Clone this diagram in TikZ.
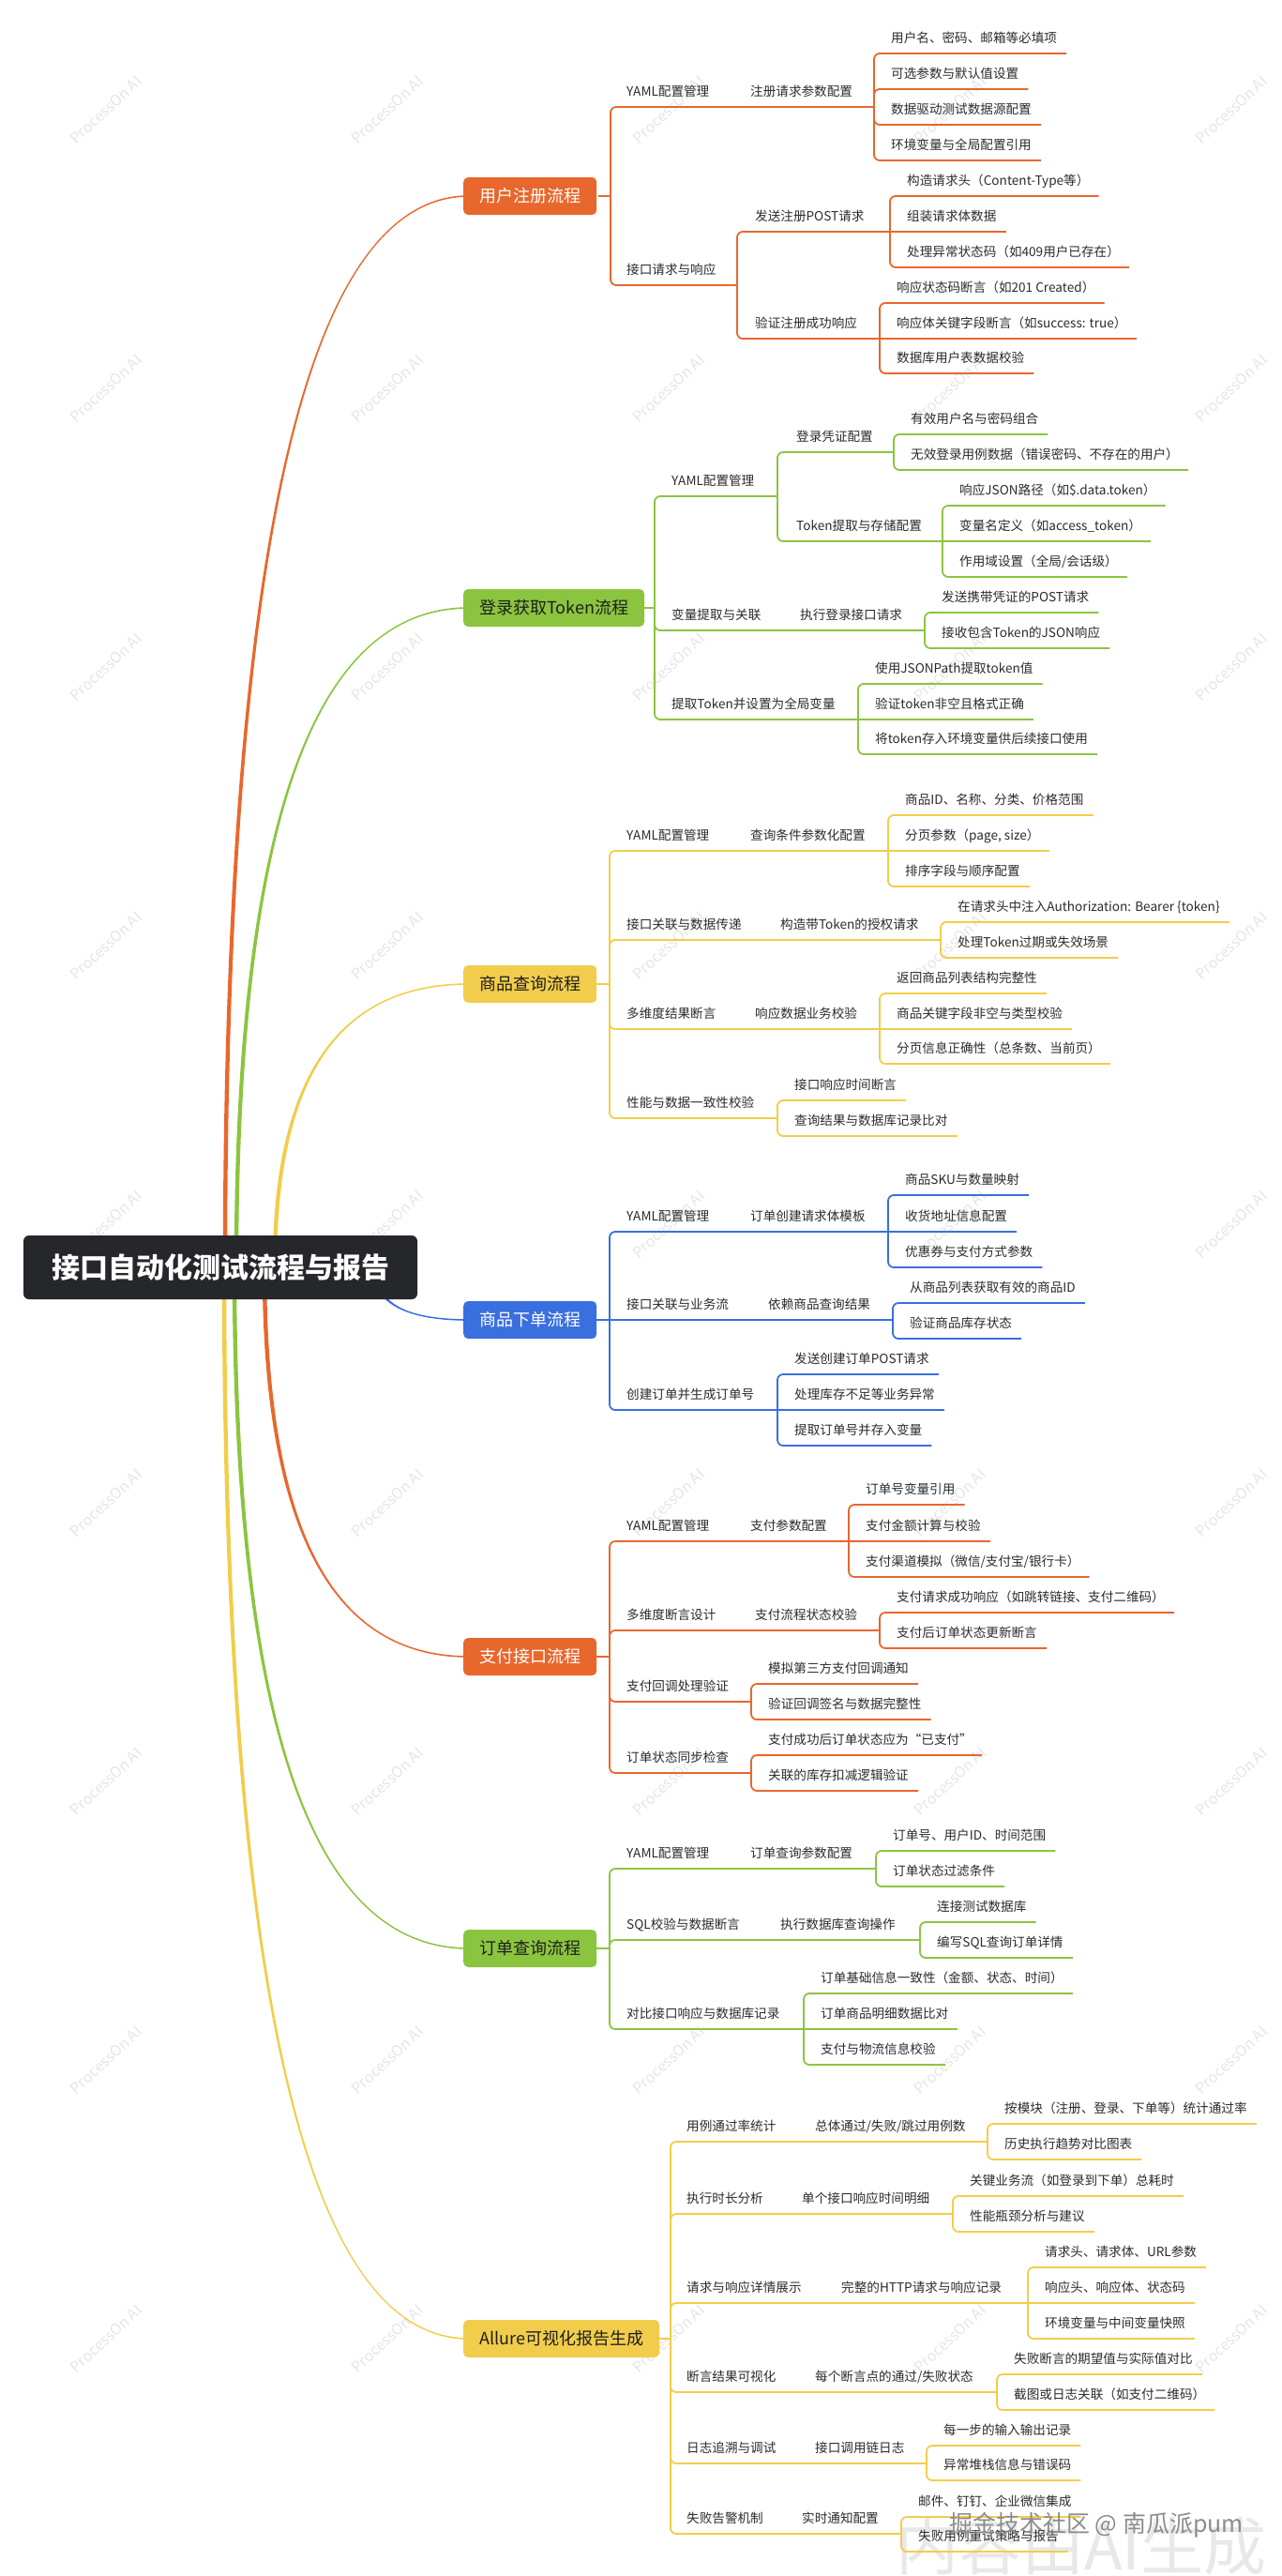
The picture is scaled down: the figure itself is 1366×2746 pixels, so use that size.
\documentclass[tikz,border=0pt]{standalone}
\usepackage{fontspec}
\setmainfont{Noto Sans CJK SC}
\usetikzlibrary{calc}
\definecolor{cor}{HTML}{E8672C}
\definecolor{cgr}{HTML}{8BC53F}
\definecolor{cye}{HTML}{F2CD4B}
\definecolor{cbl}{HTML}{3A6FE0}
\definecolor{croot}{HTML}{26272B}
\definecolor{ctxt}{HTML}{2B2B2B}
\definecolor{cdark}{HTML}{1E1E1E}
\definecolor{cwm}{HTML}{E6E6E6}
\newcounter{nd}
\newcommand\brc{cor}
\tikzset{
  conn/.style={draw=\brc, line width=1.8pt, rounded corners=6pt},
  lbl/.style={font=\fontsize{13.6}{16}\selectfont, text=ctxt, inner sep=0pt, text depth=0pt, anchor=south west},
  bnode/.style={anchor=west, rounded corners=5pt, minimum height=40pt, inner xsep=17pt, inner ysep=0pt, font=\fontsize{18}{20}\selectfont},
  rootnode/.style={fill=croot, rounded corners=6pt, minimum width=420pt, minimum height=68pt, inner sep=0pt, text=white, font=\fontsize{30}{34}\selectfont\bfseries},
  wmark/.style={font=\fontsize{16}{18}\selectfont, text=cwm, rotate=43, inner sep=0pt}
}
% segment: from (x1,y1) vertical to y2 then horizontal to x2
\newcommand\seg[4]{\ifdim #2pt=#4pt \draw[conn] (#1,#2) -- (#3,#4);\else \draw[conn] (#1,#2) |- (#3,#4);\fi}
% label: text x, underline y, text
\newcommand\lab[3]{\stepcounter{nd}\node[lbl] (n\thend) at (#1,#2-11) {#3};}
% leaf: trunk x, parent y, underline y, text
\newcommand\leaf[4]{\stepcounter{nd}\node[lbl, inner xsep=10pt, inner ysep=0pt] (n\thend) at (#1+8,#3-11) {#4};
  \ifdim #2pt=#3pt \draw[conn] (#1,#2) -- ([yshift=-11pt]n\thend.south east);\else \draw[conn] (#1,#2) |- ([yshift=-11pt]n\thend.south east);\fi}
% tapered main curve: colour, start x, end y, signed end half-width
\newcommand\bcurve[4]{%
  \fill[#1] ({#2-2.2},1351) .. controls ({#2-2.2},{1351+2/3*(#3-1351)}) and ({494+2/3*(#2-494)},{#3-(#4)}) .. (500,{#3-(#4)})
    -- (500,{#3+(#4)}) .. controls ({494+2/3*(#2-494)},{#3+(#4)}) and ({#2+2.2},{1351+2/3*(#3-1351)}) .. ({#2+2.2},1351) -- cycle;}

\begin{document}
\begin{tikzpicture}[x=1pt,y=-1pt]
\useasboundingbox (0,0) rectangle (1366,2746);
\fill[white] (0,0) rectangle (1366,2746);
% watermarks
\foreach \wx in {113,413,713,1013,1313}{
  \foreach \wk in {0,...,8}{
    \node[wmark] (wm-\wx-\wk) at (\wx,{117+297*\wk}) {ProcessOn AI};
  }
}
\node[font=\fontsize{67}{70}\selectfont, text=black!9, inner sep=0pt, anchor=base west] (aiwm) at (955,2739) {内容由AI生成};

% main curves
\bcurve{cor}{240}{209}{0.8}
\bcurve{cgr}{252}{648}{0.8}
\bcurve{cye}{293}{1049}{0.8}
\bcurve{cbl}{399}{1407}{-0.8}
\bcurve{cor}{282}{1766}{-0.8}
\bcurve{cgr}{250}{2077}{-0.8}
\bcurve{cye}{239}{2493}{-0.8}

\node[rootnode] (root) at (235,1351) {接口自动化测试流程与报告};

%% Section 1
\renewcommand\brc{cor}
\draw[conn] (638,209) -- (651,209);
\node[bnode, fill=cor, text=white] (b1) at (494,209) {用户注册流程};
\seg{651}{209}{932}{114}
\lab{668}{114}{YAML配置管理}
\lab{800}{114}{注册请求参数配置}
\leaf{932}{114}{57}{用户名、密码、邮箱等必填项}
\leaf{932}{114}{95}{可选参数与默认值设置}
\leaf{932}{114}{133}{数据驱动测试数据源配置}
\leaf{932}{114}{171}{环境变量与全局配置引用}
\seg{651}{209}{786}{304}
\lab{668}{304}{接口请求与响应}
\seg{786}{304}{949}{247}
\lab{805}{247}{发送注册POST请求}
\leaf{949}{247}{209}{构造请求头（Content-Type等）}
\leaf{949}{247}{247}{组装请求体数据}
\leaf{949}{247}{285}{处理异常状态码（如409用户已存在）}
\seg{786}{304}{938}{361}
\lab{805}{361}{验证注册成功响应}
\leaf{938}{361}{323}{响应状态码断言（如201 Created）}
\leaf{938}{361}{361}{响应体关键字段断言（如success: true）}
\leaf{938}{361}{398}{数据库用户表数据校验}

%% Section 2
\renewcommand\brc{cgr}
\draw[conn] (680,648) -- (698,648);
\node[bnode, fill=cgr, text=cdark] (b2) at (494,648) {登录获取Token流程};
\seg{698}{648}{829}{529}
\lab{716}{529}{YAML配置管理}
\seg{829}{529}{953}{482}
\lab{849}{482}{登录凭证配置}
\leaf{953}{482}{463}{有效用户名与密码组合}
\leaf{953}{482}{501}{无效登录用例数据（错误密码、不存在的用户）}
\seg{829}{529}{1005}{577}
\lab{849}{577}{Token提取与存储配置}
\leaf{1005}{577}{539}{响应JSON路径（如\$.data.token）}
\leaf{1005}{577}{577}{变量名定义（如access\_token）}
\leaf{1005}{577}{615}{作用域设置（全局/会话级）}
\seg{698}{648}{986}{672}
\lab{716}{672}{变量提取与关联}
\lab{853}{672}{执行登录接口请求}
\leaf{986}{672}{653}{发送携带凭证的POST请求}
\leaf{986}{672}{691}{接收包含Token的JSON响应}
\seg{698}{648}{915}{767}
\lab{716}{767}{提取Token并设置为全局变量}
\leaf{915}{767}{729}{使用JSONPath提取token值}
\leaf{915}{767}{767}{验证token非空且格式正确}
\leaf{915}{767}{804}{将token存入环境变量供后续接口使用}

%% Section 3
\renewcommand\brc{cye}
\draw[conn] (630,1049) -- (650,1049);
\node[bnode, fill=cye, text=cdark] (b3) at (494,1049) {商品查询流程};
\seg{650}{1049}{947}{907}
\lab{668}{907}{YAML配置管理}
\lab{800}{907}{查询条件参数化配置}
\leaf{947}{907}{869}{商品ID、名称、分类、价格范围}
\leaf{947}{907}{907}{分页参数（page, size）}
\leaf{947}{907}{945}{排序字段与顺序配置}
\seg{650}{1049}{1003}{1002}
\lab{668}{1002}{接口关联与数据传递}
\lab{832}{1002}{构造带Token的授权请求}
\leaf{1003}{1002}{983}{在请求头中注入Authorization: Bearer \{token\}}
\leaf{1003}{1002}{1021}{处理Token过期或失效场景}
\seg{650}{1049}{938}{1097}
\lab{668}{1097}{多维度结果断言}
\lab{805}{1097}{响应数据业务校验}
\leaf{938}{1097}{1059}{返回商品列表结构完整性}
\leaf{938}{1097}{1097}{商品关键字段非空与类型校验}
\leaf{938}{1097}{1134}{分页信息正确性（总条数、当前页）}
\seg{650}{1049}{829}{1192}
\lab{668}{1192}{性能与数据一致性校验}
\leaf{829}{1192}{1173}{接口响应时间断言}
\leaf{829}{1192}{1211}{查询结果与数据库记录比对}

%% Section 4
\renewcommand\brc{cbl}
\draw[conn] (630,1407) -- (650,1407);
\node[bnode, fill=cbl, text=white] (b4) at (494,1407) {商品下单流程};
\seg{650}{1407}{947}{1313}
\lab{668}{1313}{YAML配置管理}
\lab{800}{1313}{订单创建请求体模板}
\leaf{947}{1313}{1274}{商品SKU与数量映射}
\leaf{947}{1313}{1313}{收货地址信息配置}
\leaf{947}{1313}{1351}{优惠券与支付方式参数}
\seg{650}{1407}{952}{1407}
\lab{668}{1407}{接口关联与业务流}
\lab{819}{1407}{依赖商品查询结果}
\leaf{952}{1407}{1389}{从商品列表获取有效的商品ID}
\leaf{952}{1407}{1427}{验证商品库存状态}
\seg{650}{1407}{829}{1503}
\lab{668}{1503}{创建订单并生成订单号}
\leaf{829}{1503}{1465}{发送创建订单POST请求}
\leaf{829}{1503}{1503}{处理库存不足等业务异常}
\leaf{829}{1503}{1541}{提取订单号并存入变量}

%% Section 5
\renewcommand\brc{cor}
\draw[conn] (630,1766) -- (650,1766);
\node[bnode, fill=cor, text=white] (b5) at (494,1766) {支付接口流程};
\seg{650}{1766}{905}{1643}
\lab{668}{1643}{YAML配置管理}
\lab{800}{1643}{支付参数配置}
\leaf{905}{1643}{1604}{订单号变量引用}
\leaf{905}{1643}{1643}{支付金额计算与校验}
\leaf{905}{1643}{1681}{支付渠道模拟（微信/支付宝/银行卡）}
\seg{650}{1766}{938}{1738}
\lab{668}{1738}{多维度断言设计}
\lab{805}{1738}{支付流程状态校验}
\leaf{938}{1738}{1719}{支付请求成功响应（如跳转链接、支付二维码）}
\leaf{938}{1738}{1757}{支付后订单状态更新断言}
\seg{650}{1766}{801}{1814}
\lab{668}{1814}{支付回调处理验证}
\leaf{801}{1814}{1795}{模拟第三方支付回调通知}
\leaf{801}{1814}{1833}{验证回调签名与数据完整性}
\seg{650}{1766}{801}{1890}
\lab{668}{1890}{订单状态同步检查}
\leaf{801}{1890}{1871}{支付成功后订单状态应为“已支付”}
\leaf{801}{1890}{1909}{关联的库存扣减逻辑验证}

%% Section 6
\renewcommand\brc{cgr}
\draw[conn] (630,2077) -- (650,2077);
\node[bnode, fill=cgr, text=cdark] (b6) at (494,2077) {订单查询流程};
\seg{650}{2077}{934}{1992}
\lab{668}{1992}{YAML配置管理}
\lab{800}{1992}{订单查询参数配置}
\leaf{934}{1992}{1973}{订单号、用户ID、时间范围}
\leaf{934}{1992}{2011}{订单状态过滤条件}
\seg{650}{2077}{981}{2068}
\lab{668}{2068}{SQL校验与数据断言}
\lab{832}{2068}{执行数据库查询操作}
\leaf{981}{2068}{2049}{连接测试数据库}
\leaf{981}{2068}{2087}{编写SQL查询订单详情}
\seg{650}{2077}{857}{2163}
\lab{668}{2163}{对比接口响应与数据库记录}
\leaf{857}{2163}{2125}{订单基础信息一致性（金额、状态、时间）}
\leaf{857}{2163}{2163}{订单商品明细数据比对}
\leaf{857}{2163}{2201}{支付与物流信息校验}

%% Section 7
\renewcommand\brc{cye}
\draw[conn] (690,2493) -- (715,2493);
\node[bnode, fill=cye, text=cdark] (b7) at (494,2493) {Allure可视化报告生成};
\seg{715}{2493}{1053}{2283}
\lab{732}{2283}{用例通过率统计}
\lab{869}{2283}{总体通过/失败/跳过用例数}
\leaf{1053}{2283}{2264}{按模块（注册、登录、下单等）统计通过率}
\leaf{1053}{2283}{2302}{历史执行趋势对比图表}
\seg{715}{2493}{1016}{2360}
\lab{732}{2360}{执行时长分析}
\lab{855}{2360}{单个接口响应时间明细}
\leaf{1016}{2360}{2341}{关键业务流（如登录到下单）总耗时}
\leaf{1016}{2360}{2379}{性能瓶颈分析与建议}
\seg{715}{2493}{1096}{2455}
\lab{732}{2455}{请求与响应详情展示}
\lab{897}{2455}{完整的HTTP请求与响应记录}
\leaf{1096}{2455}{2417}{请求头、请求体、URL参数}
\leaf{1096}{2455}{2455}{响应头、响应体、状态码}
\leaf{1096}{2455}{2493}{环境变量与中间变量快照}
\seg{715}{2493}{1063}{2550}
\lab{732}{2550}{断言结果可视化}
\lab{869}{2550}{每个断言点的通过/失败状态}
\leaf{1063}{2550}{2531}{失败断言的期望值与实际值对比}
\leaf{1063}{2550}{2569}{截图或日志关联（如支付二维码）}
\seg{715}{2493}{988}{2626}
\lab{732}{2626}{日志追溯与调试}
\lab{869}{2626}{接口调用链日志}
\leaf{988}{2626}{2607}{每一步的输入输出记录}
\leaf{988}{2626}{2644}{异常堆栈信息与错误码}
\seg{715}{2493}{961}{2701}
\lab{732}{2701}{失败告警机制}
\lab{855}{2701}{实时通知配置}
\leaf{961}{2701}{2683}{邮件、钉钉、企业微信集成}
\leaf{961}{2701}{2720}{失败用例重试策略与报告}

% platform watermark
\node[font=\fontsize{25}{28}\selectfont, text=black!45, inner sep=0pt, anchor=base west] (jjwm) at (1012,2699) {掘金技术社区 @ 南瓜派pum};
\end{tikzpicture}
\end{document}
